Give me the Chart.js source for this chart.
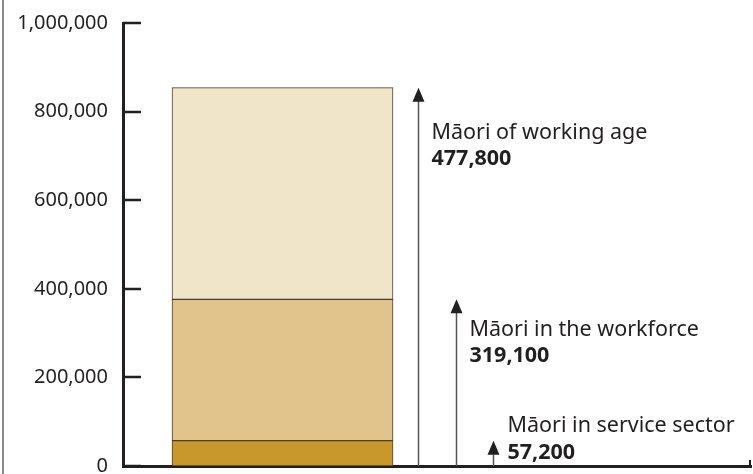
<!DOCTYPE html>
<html>
<head>
<meta charset="utf-8">
<script src="https://cdn.jsdelivr.net/npm/chart.js@4.4.1/dist/chart.umd.min.js"></script>
<style>
  html, body { margin: 0; padding: 0; background: #fff; }
  #wrap { position: relative; width: 753px; height: 474px; }
  #wrap::before {
    content: ''; position: absolute; left: 2px; top: 0; bottom: 0;
    border-left: 2px solid #8a8a8a;
  }
</style>
</head>
<body>
<div id="wrap"><canvas id="MaoriChart" width="753" height="474"></canvas></div>
<script>
// segments of the stacked bar, bottom to top
const segmentNames = ['Māori in service sector', 'Māori in the workforce', 'Māori of working age']
const segmentValues = [57200, 319100, 477800]
const segmentColors = ['#c9982c', '#e0c48b', '#f1e5c9']

// y axis
const yTicks = [0, 200000, 400000, 600000, 800000, 1000000]

// x positions (on a 0-100 linear axis) of the bar and the three arrows
const barX = 25.4
const arrowX = [47.0, 53.05, 58.95]

const fontName = "'Noto Sans', 'Open Sans', sans-serif"
const ink = '#231f20'

// cumulative tops for the arrows
const arrowTops = segmentValues.map((v, i) =>
  segmentValues.slice(0, i + 1).reduce((a, b) => a + b, 0)
).reverse()
const arrowLabels = [segmentNames[2], segmentNames[1], segmentNames[0]]
const arrowValues = [segmentValues[2], segmentValues[1], segmentValues[0]]

const fmt = (n) => n.toLocaleString('en-US')

const arrowPlugin = {
  id: 'arrows',
  afterDatasetsDraw(chart, args, opts) {
    const { ctx, scales } = chart
    const x = scales.x
    const y = scales.y
    const y0 = y.getPixelForValue(0)
    ctx.save()

    // inward tick marks on the y axis
    ctx.strokeStyle = ink
    ctx.lineWidth = 2.5
    yTicks.forEach((t) => {
      const py = Math.round(y.getPixelForValue(t))
      ctx.beginPath()
      ctx.moveTo(x.left, py)
      ctx.lineTo(x.left + 18, py)
      ctx.stroke()
    })
    // small end tick on the x axis
    ctx.lineWidth = 2
    ctx.beginPath()
    ctx.moveTo(x.right - 1, y0)
    ctx.lineTo(x.right - 1, y0 - 6)
    ctx.stroke()

    arrowX.forEach((ax, i) => {
      const px = Math.round(x.getPixelForValue(ax)) + 0.5
      const top = y.getPixelForValue(arrowTops[i])
      // shaft
      ctx.strokeStyle = '#555'
      ctx.lineWidth = 1.5
      ctx.beginPath()
      ctx.moveTo(px, y0)
      ctx.lineTo(px, top + 10)
      ctx.stroke()
      // head
      ctx.fillStyle = ink
      ctx.beginPath()
      ctx.moveTo(px, top)
      ctx.lineTo(px - 6, top + 14)
      ctx.lineTo(px + 6, top + 14)
      ctx.closePath()
      ctx.fill()

      // label
      const lab = opts.labels[i]
      ctx.fillStyle = ink
      ctx.textAlign = 'left'
      ctx.textBaseline = 'alphabetic'
      ctx.font = '21.5px ' + fontName
      ctx.fillText(arrowLabels[i], px + lab.dx, lab.y1)
      ctx.font = 'bold 21.5px ' + fontName
      ctx.fillText(fmt(arrowValues[i]), px + lab.dx, lab.y2)
    })
    ctx.restore()
  }
}

const ctx = document.getElementById('MaoriChart')
new Chart(ctx, {
  type: 'bar',
  data: {
    datasets: segmentValues.map((v, i) => ({
      label: segmentNames[i],
      data: [{ x: barX, y: v }],
      backgroundColor: segmentColors[i],
      borderColor: '#4a3f2c',
      borderWidth: 1,
      borderSkipped: false,
      barThickness: 221
    }))
  },
  options: {
    responsive: false,
    animation: false,
    events: [],
    layout: { padding: { top: 23, right: 2, bottom: 0, left: 0 } },
    plugins: {
      legend: { display: false },
      tooltip: { enabled: false },
      arrows: {
        labels: [
          { dx: 13, y1: 139, y2: 165 },
          { dx: 13, y1: 336, y2: 362 },
          { dx: 14, y1: 432, y2: 459 }
        ]
      }
    },
    scales: {
      x: {
        type: 'linear',
        min: 0,
        max: 100,
        offset: false,
        stacked: true,
        grid: { display: false },
        ticks: { display: false },
        border: { display: true, color: ink, width: 3 },
        afterFit(scale) { scale.height = 8; scale.paddingLeft = 0; scale.paddingRight = 0 }
      },
      y: {
        stacked: true,
        min: 0,
        max: 1000000,
        afterBuildTicks(scale) {
          scale.ticks = yTicks.map((v) => ({ value: v }))
        },
        grid: { display: false, drawTicks: false },
        border: { display: true, color: ink, width: 3 },
        ticks: {
          color: ink,
          padding: 15,
          font: { family: fontName, size: 20 },
          callback: (v) => fmt(v)
        },
        afterFit(scale) {
          scale.width = 123
          scale.paddingTop = 0
          scale.paddingBottom = 0
        }
      }
    }
  },
  plugins: [arrowPlugin]
})
</script>
</body>
</html>
